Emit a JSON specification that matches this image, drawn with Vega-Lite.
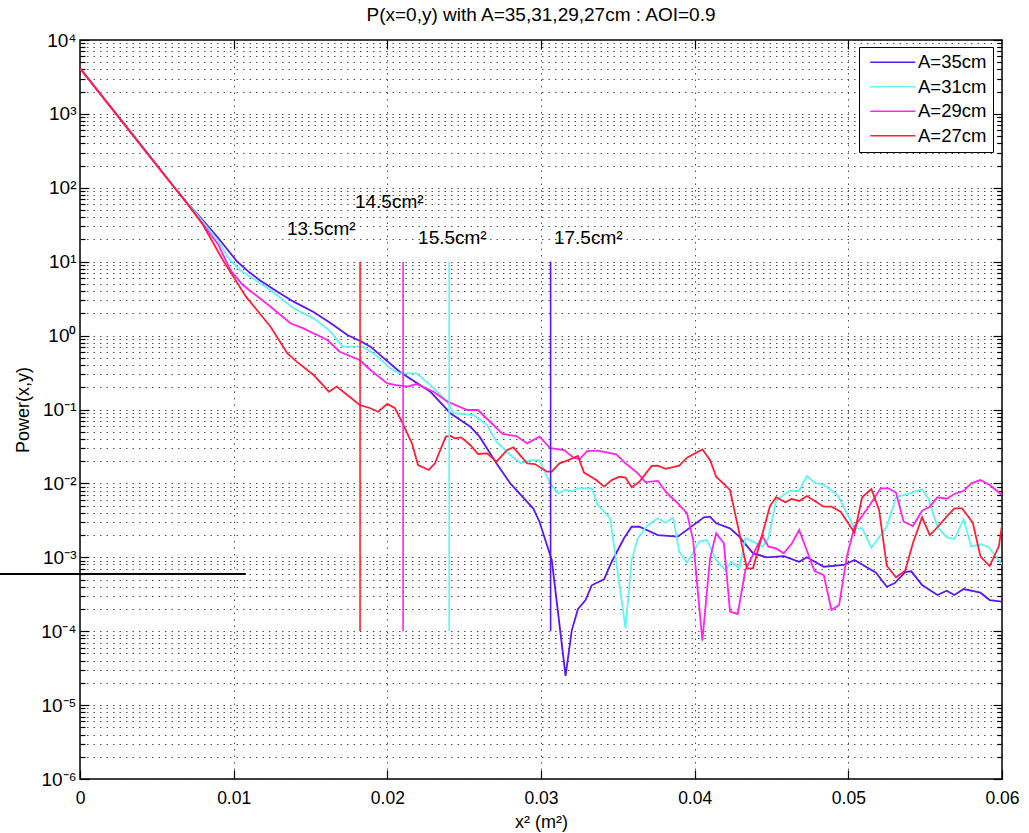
{
  "$schema": "https://vega.github.io/schema/vega-lite/v6.json",
  "width": 922,
  "height": 739,
  "autosize": {"type": "none"},
  "padding": {"left": 80, "top": 40, "right": 27, "bottom": 54},
  "background": "white",
  "config": {
    "font": "Liberation Sans",
    "view": {"stroke": "black", "strokeWidth": 1.5},
    "axis": {
      "labelFont": "Liberation Sans",
      "titleFont": "Liberation Sans",
      "labelColor": "black",
      "titleColor": "black",
      "titleFontWeight": "normal",
      "domain": false,
      "tickColor": "black",
      "tickWidth": 1.2,
      "gridColor": "#333333",
      "gridDash": [1.5, 5],
      "gridOpacity": 0.85,
      "gridWidth": 1
    }
  },
  "title": {
    "text": "P(x=0,y) with A=35,31,29,27cm : AOI=0.9",
    "font": "Liberation Sans",
    "fontSize": 19,
    "fontWeight": "normal",
    "color": "black",
    "anchor": "middle",
    "frame": "group",
    "baseline": "alphabetic",
    "offset": 15,
    "dy": 24
  },
  "datasets": {
    "curves": [
      {"s":"A=35cm","x":0,"y":4140},{"s":"A=35cm","x":0.004,"y":369},{"s":"A=35cm","x":0.006,"y":110},{"s":"A=35cm","x":0.007,"y":61.7},{"s":"A=35cm","x":0.008,"y":36.3},{"s":"A=35cm","x":0.009,"y":20.9},{"s":"A=35cm","x":0.0098,"y":12.9},{"s":"A=35cm","x":0.0102,"y":10.2},{"s":"A=35cm","x":0.011,"y":7.24},{"s":"A=35cm","x":0.0117,"y":5.62},{"s":"A=35cm","x":0.0128,"y":3.98},{"s":"A=35cm","x":0.0139,"y":2.88},{"s":"A=35cm","x":0.0152,"y":2.09},{"s":"A=35cm","x":0.0163,"y":1.48},{"s":"A=35cm","x":0.0174,"y":1.02},{"s":"A=35cm","x":0.0183,"y":0.832},{"s":"A=35cm","x":0.0189,"y":0.708},{"s":"A=35cm","x":0.0208,"y":0.325},{"s":"A=35cm","x":0.0228,"y":0.174},{"s":"A=35cm","x":0.0241,"y":0.0891},{"s":"A=35cm","x":0.0254,"y":0.0585},{"s":"A=35cm","x":0.026,"y":0.0429},{"s":"A=35cm","x":0.0271,"y":0.0187},{"s":"A=35cm","x":0.028,"y":0.01},{"s":"A=35cm","x":0.0295,"y":0.00457},{"s":"A=35cm","x":0.0299,"y":0.00303},{"s":"A=35cm","x":0.0307,"y":0.000918},{"s":"A=35cm","x":0.0316,"y":0.0000248},{"s":"A=35cm","x":0.032,"y":0.000102},{"s":"A=35cm","x":0.0324,"y":0.000198},{"s":"A=35cm","x":0.0329,"y":0.000264},{"s":"A=35cm","x":0.0333,"y":0.000418},{"s":"A=35cm","x":0.0341,"y":0.000504},{"s":"A=35cm","x":0.0346,"y":0.000871},{"s":"A=35cm","x":0.0354,"y":0.00181},{"s":"A=35cm","x":0.0359,"y":0.00259},{"s":"A=35cm","x":0.0364,"y":0.00259},{"s":"A=35cm","x":0.0376,"y":0.002},{"s":"A=35cm","x":0.0389,"y":0.0019},{"s":"A=35cm","x":0.0406,"y":0.00348},{"s":"A=35cm","x":0.041,"y":0.00355},{"s":"A=35cm","x":0.0414,"y":0.00288},{"s":"A=35cm","x":0.0423,"y":0.00247},{"s":"A=35cm","x":0.0429,"y":0.0019},{"s":"A=35cm","x":0.0438,"y":0.00113},{"s":"A=35cm","x":0.0447,"y":0.001},{"s":"A=35cm","x":0.0458,"y":0.00104},{"s":"A=35cm","x":0.0468,"y":0.000871},{"s":"A=35cm","x":0.0473,"y":0.001},{"s":"A=35cm","x":0.0484,"y":0.000746},{"s":"A=35cm","x":0.0497,"y":0.000787},{"s":"A=35cm","x":0.0504,"y":0.000918},{"s":"A=35cm","x":0.0518,"y":0.000619},{"s":"A=35cm","x":0.0525,"y":0.0004},{"s":"A=35cm","x":0.053,"y":0.000445},{"s":"A=35cm","x":0.0537,"y":0.000632},{"s":"A=35cm","x":0.0541,"y":0.000646},{"s":"A=35cm","x":0.0548,"y":0.000422},{"s":"A=35cm","x":0.0558,"y":0.000309},{"s":"A=35cm","x":0.0564,"y":0.000353},{"s":"A=35cm","x":0.0569,"y":0.000309},{"s":"A=35cm","x":0.0575,"y":0.000372},{"s":"A=35cm","x":0.0586,"y":0.000332},{"s":"A=35cm","x":0.0592,"y":0.000264},{"s":"A=35cm","x":0.06,"y":0.000251},
      {"s":"A=31cm","x":0,"y":4140},{"s":"A=31cm","x":0.004,"y":369},{"s":"A=31cm","x":0.006,"y":110},{"s":"A=31cm","x":0.007,"y":61},{"s":"A=31cm","x":0.008,"y":34.7},{"s":"A=31cm","x":0.009,"y":19.1},{"s":"A=31cm","x":0.00965,"y":11.2},{"s":"A=31cm","x":0.0104,"y":7.73},{"s":"A=31cm","x":0.0124,"y":4.14},{"s":"A=31cm","x":0.0139,"y":2.34},{"s":"A=31cm","x":0.0152,"y":1.71},{"s":"A=31cm","x":0.0162,"y":1.19},{"s":"A=31cm","x":0.0171,"y":0.708},{"s":"A=31cm","x":0.0184,"y":0.708},{"s":"A=31cm","x":0.0191,"y":0.575},{"s":"A=31cm","x":0.0202,"y":0.361},{"s":"A=31cm","x":0.0208,"y":0.309},{"s":"A=31cm","x":0.0219,"y":0.309},{"s":"A=31cm","x":0.0228,"y":0.214},{"s":"A=31cm","x":0.0239,"y":0.128},{"s":"A=31cm","x":0.0243,"y":0.0891},{"s":"A=31cm","x":0.0256,"y":0.0843},{"s":"A=31cm","x":0.0265,"y":0.0617},{"s":"A=31cm","x":0.0271,"y":0.0367},{"s":"A=31cm","x":0.028,"y":0.0242},{"s":"A=31cm","x":0.0287,"y":0.0187},{"s":"A=31cm","x":0.0293,"y":0.0207},{"s":"A=31cm","x":0.0299,"y":0.0207},{"s":"A=31cm","x":0.0306,"y":0.01},{"s":"A=31cm","x":0.0311,"y":0.00735},{"s":"A=31cm","x":0.0316,"y":0.00813},{"s":"A=31cm","x":0.032,"y":0.00776},{"s":"A=31cm","x":0.0324,"y":0.00859},{"s":"A=31cm","x":0.0333,"y":0.00859},{"s":"A=31cm","x":0.0337,"y":0.00511},{"s":"A=31cm","x":0.0345,"y":0.00337},{"s":"A=31cm","x":0.0355,"y":0.00011},{"s":"A=31cm","x":0.0359,"y":0.000918},{"s":"A=31cm","x":0.0363,"y":0.00181},{"s":"A=31cm","x":0.0369,"y":0.00265},{"s":"A=31cm","x":0.0376,"y":0.00337},{"s":"A=31cm","x":0.0381,"y":0.00294},{"s":"A=31cm","x":0.0386,"y":0.00344},{"s":"A=31cm","x":0.039,"y":0.00119},{"s":"A=31cm","x":0.0395,"y":0.000845},{"s":"A=31cm","x":0.04,"y":0.00126},{"s":"A=31cm","x":0.0403,"y":0.00163},{"s":"A=31cm","x":0.0408,"y":0.00171},{"s":"A=31cm","x":0.0414,"y":0.000918},{"s":"A=31cm","x":0.042,"y":0.000673},{"s":"A=31cm","x":0.0424,"y":0.000871},{"s":"A=31cm","x":0.0429,"y":0.00071},{"s":"A=31cm","x":0.0433,"y":0.00181},{"s":"A=31cm","x":0.0438,"y":0.00163},{"s":"A=31cm","x":0.0444,"y":0.00139},{"s":"A=31cm","x":0.0448,"y":0.00181},{"s":"A=31cm","x":0.0453,"y":0.00596},{"s":"A=31cm","x":0.0462,"y":0.00794},{"s":"A=31cm","x":0.0468,"y":0.00794},{"s":"A=31cm","x":0.0473,"y":0.0126},{"s":"A=31cm","x":0.0478,"y":0.0102},{"s":"A=31cm","x":0.0484,"y":0.00955},{"s":"A=31cm","x":0.0493,"y":0.00697},{"s":"A=31cm","x":0.0504,"y":0.00247},{"s":"A=31cm","x":0.0509,"y":0.00247},{"s":"A=31cm","x":0.0515,"y":0.00135},{"s":"A=31cm","x":0.0525,"y":0.00259},{"s":"A=31cm","x":0.0531,"y":0.00649},{"s":"A=31cm","x":0.054,"y":0.00735},{"s":"A=31cm","x":0.0548,"y":0.00832},{"s":"A=31cm","x":0.0552,"y":0.00628},{"s":"A=31cm","x":0.0558,"y":0.00259},{"s":"A=31cm","x":0.0564,"y":0.00186},{"s":"A=31cm","x":0.0569,"y":0.00177},{"s":"A=31cm","x":0.0575,"y":0.00327},{"s":"A=31cm","x":0.058,"y":0.00139},{"s":"A=31cm","x":0.0586,"y":0.00151},{"s":"A=31cm","x":0.0591,"y":0.00139},{"s":"A=31cm","x":0.06,"y":0.000804},
      {"s":"A=29cm","x":0,"y":4140},{"s":"A=29cm","x":0.004,"y":369},{"s":"A=29cm","x":0.006,"y":110},{"s":"A=29cm","x":0.007,"y":60.3},{"s":"A=29cm","x":0.008,"y":32.4},{"s":"A=29cm","x":0.009,"y":17},{"s":"A=29cm","x":0.0098,"y":7.6},{"s":"A=29cm","x":0.0106,"y":4.84},{"s":"A=29cm","x":0.0124,"y":2.46},{"s":"A=29cm","x":0.0137,"y":1.47},{"s":"A=29cm","x":0.0145,"y":1.26},{"s":"A=29cm","x":0.0161,"y":0.871},{"s":"A=29cm","x":0.0169,"y":0.605},{"s":"A=29cm","x":0.0182,"y":0.468},{"s":"A=29cm","x":0.0189,"y":0.343},{"s":"A=29cm","x":0.02,"y":0.226},{"s":"A=29cm","x":0.0206,"y":0.214},{"s":"A=29cm","x":0.0213,"y":0.204},{"s":"A=29cm","x":0.0219,"y":0.221},{"s":"A=29cm","x":0.023,"y":0.174},{"s":"A=29cm","x":0.0239,"y":0.128},{"s":"A=29cm","x":0.0252,"y":0.0984},{"s":"A=29cm","x":0.0259,"y":0.0984},{"s":"A=29cm","x":0.0269,"y":0.0617},{"s":"A=29cm","x":0.0275,"y":0.0466},{"s":"A=29cm","x":0.0284,"y":0.0438},{"s":"A=29cm","x":0.0291,"y":0.0348},{"s":"A=29cm","x":0.0299,"y":0.0429},{"s":"A=29cm","x":0.0306,"y":0.0299},{"s":"A=29cm","x":0.0315,"y":0.0283},{"s":"A=29cm","x":0.0321,"y":0.0225},{"s":"A=29cm","x":0.0325,"y":0.0212},{"s":"A=29cm","x":0.033,"y":0.0274},{"s":"A=29cm","x":0.0337,"y":0.0277},{"s":"A=29cm","x":0.0349,"y":0.0248},{"s":"A=29cm","x":0.0355,"y":0.0187},{"s":"A=29cm","x":0.0363,"y":0.0137},{"s":"A=29cm","x":0.0368,"y":0.0104},{"s":"A=29cm","x":0.0376,"y":0.0108},{"s":"A=29cm","x":0.0382,"y":0.00735},{"s":"A=29cm","x":0.0388,"y":0.00565},{"s":"A=29cm","x":0.0395,"y":0.00394},{"s":"A=29cm","x":0.0399,"y":0.00171},{"s":"A=29cm","x":0.0405,"y":0.0000745},{"s":"A=29cm","x":0.041,"y":0.000968},{"s":"A=29cm","x":0.0414,"y":0.00211},{"s":"A=29cm","x":0.0419,"y":0.00155},{"s":"A=29cm","x":0.0423,"y":0.000184},{"s":"A=29cm","x":0.0428,"y":0.000171},{"s":"A=29cm","x":0.0433,"y":0.000673},{"s":"A=29cm","x":0.0444,"y":0.00194},{"s":"A=29cm","x":0.0448,"y":0.00139},{"s":"A=29cm","x":0.0453,"y":0.00132},{"s":"A=29cm","x":0.0458,"y":0.00113},{"s":"A=29cm","x":0.0463,"y":0.00151},{"s":"A=29cm","x":0.0468,"y":0.00234},{"s":"A=29cm","x":0.0478,"y":0.000653},{"s":"A=29cm","x":0.0484,"y":0.000575},{"s":"A=29cm","x":0.0489,"y":0.000194},{"s":"A=29cm","x":0.0494,"y":0.000226},{"s":"A=29cm","x":0.0499,"y":0.00102},{"s":"A=29cm","x":0.0504,"y":0.00259},{"s":"A=29cm","x":0.0514,"y":0.00511},{"s":"A=29cm","x":0.0521,"y":0.00859},{"s":"A=29cm","x":0.0526,"y":0.00859},{"s":"A=29cm","x":0.0531,"y":0.0075},{"s":"A=29cm","x":0.0536,"y":0.00303},{"s":"A=29cm","x":0.0542,"y":0.00265},{"s":"A=29cm","x":0.0548,"y":0.00427},{"s":"A=29cm","x":0.0553,"y":0.00484},{"s":"A=29cm","x":0.0558,"y":0.00649},{"s":"A=29cm","x":0.0564,"y":0.00621},{"s":"A=29cm","x":0.0569,"y":0.00719},{"s":"A=29cm","x":0.0575,"y":0.00794},{"s":"A=29cm","x":0.058,"y":0.01},{"s":"A=29cm","x":0.0586,"y":0.0111},{"s":"A=29cm","x":0.0592,"y":0.00951},{"s":"A=29cm","x":0.06,"y":0.00697},
      {"s":"A=27cm","x":0,"y":4140},{"s":"A=27cm","x":0.004,"y":369},{"s":"A=27cm","x":0.006,"y":110},{"s":"A=27cm","x":0.007,"y":60.3},{"s":"A=27cm","x":0.008,"y":31.6},{"s":"A=27cm","x":0.0093,"y":10.5},{"s":"A=27cm","x":0.0108,"y":3.37},{"s":"A=27cm","x":0.0124,"y":1.32},{"s":"A=27cm","x":0.0135,"y":0.575},{"s":"A=27cm","x":0.0141,"y":0.444},{"s":"A=27cm","x":0.0152,"y":0.293},{"s":"A=27cm","x":0.0162,"y":0.174},{"s":"A=27cm","x":0.0167,"y":0.204},{"s":"A=27cm","x":0.0174,"y":0.157},{"s":"A=27cm","x":0.0182,"y":0.115},{"s":"A=27cm","x":0.0189,"y":0.104},{"s":"A=27cm","x":0.0194,"y":0.0933},{"s":"A=27cm","x":0.02,"y":0.119},{"s":"A=27cm","x":0.0205,"y":0.104},{"s":"A=27cm","x":0.021,"y":0.065},{"s":"A=27cm","x":0.0216,"y":0.0348},{"s":"A=27cm","x":0.022,"y":0.0177},{"s":"A=27cm","x":0.0227,"y":0.0152},{"s":"A=27cm","x":0.0231,"y":0.0187},{"s":"A=27cm","x":0.0238,"y":0.0429},{"s":"A=27cm","x":0.0241,"y":0.0438},{"s":"A=27cm","x":0.0244,"y":0.0407},{"s":"A=27cm","x":0.0248,"y":0.042},{"s":"A=27cm","x":0.0254,"y":0.0331},{"s":"A=27cm","x":0.0259,"y":0.025},{"s":"A=27cm","x":0.0265,"y":0.0255},{"s":"A=27cm","x":0.0271,"y":0.0197},{"s":"A=27cm","x":0.0278,"y":0.0283},{"s":"A=27cm","x":0.0282,"y":0.0308},{"s":"A=27cm","x":0.0291,"y":0.0187},{"s":"A=27cm","x":0.0296,"y":0.0183},{"s":"A=27cm","x":0.0304,"y":0.0144},{"s":"A=27cm","x":0.0307,"y":0.0144},{"s":"A=27cm","x":0.0312,"y":0.0187},{"s":"A=27cm","x":0.0317,"y":0.0203},{"s":"A=27cm","x":0.0324,"y":0.0235},{"s":"A=27cm","x":0.0328,"y":0.014},{"s":"A=27cm","x":0.0336,"y":0.0111},{"s":"A=27cm","x":0.0341,"y":0.00904},{"s":"A=27cm","x":0.0346,"y":0.0111},{"s":"A=27cm","x":0.0351,"y":0.0123},{"s":"A=27cm","x":0.0355,"y":0.012},{"s":"A=27cm","x":0.0359,"y":0.00885},{"s":"A=27cm","x":0.0364,"y":0.0105},{"s":"A=27cm","x":0.0372,"y":0.0172},{"s":"A=27cm","x":0.0376,"y":0.0174},{"s":"A=27cm","x":0.0381,"y":0.0157},{"s":"A=27cm","x":0.039,"y":0.0174},{"s":"A=27cm","x":0.0395,"y":0.0223},{"s":"A=27cm","x":0.0405,"y":0.0289},{"s":"A=27cm","x":0.041,"y":0.0207},{"s":"A=27cm","x":0.0414,"y":0.0123},{"s":"A=27cm","x":0.0423,"y":0.00815},{"s":"A=27cm","x":0.0434,"y":0.00071},{"s":"A=27cm","x":0.0438,"y":0.00071},{"s":"A=27cm","x":0.0449,"y":0.00494},{"s":"A=27cm","x":0.0453,"y":0.00649},{"s":"A=27cm","x":0.0459,"y":0.00555},{"s":"A=27cm","x":0.0463,"y":0.00615},{"s":"A=27cm","x":0.0468,"y":0.00578},{"s":"A=27cm","x":0.0473,"y":0.00675},{"s":"A=27cm","x":0.0484,"y":0.00484},{"s":"A=27cm","x":0.0489,"y":0.00484},{"s":"A=27cm","x":0.0495,"y":0.00414},{"s":"A=27cm","x":0.0504,"y":0.00215},{"s":"A=27cm","x":0.0509,"y":0.00649},{"s":"A=27cm","x":0.0515,"y":0.00839},{"s":"A=27cm","x":0.052,"y":0.00437},{"s":"A=27cm","x":0.0525,"y":0.000769},{"s":"A=27cm","x":0.0531,"y":0.000536},{"s":"A=27cm","x":0.0537,"y":0.000659},{"s":"A=27cm","x":0.0542,"y":0.00155},{"s":"A=27cm","x":0.0548,"y":0.00348},{"s":"A=27cm","x":0.0553,"y":0.002},{"s":"A=27cm","x":0.0558,"y":0.00255},{"s":"A=27cm","x":0.0564,"y":0.00355},{"s":"A=27cm","x":0.0569,"y":0.0046},{"s":"A=27cm","x":0.0574,"y":0.0046},{"s":"A=27cm","x":0.0581,"y":0.00294},{"s":"A=27cm","x":0.0586,"y":0.00102},{"s":"A=27cm","x":0.0592,"y":0.000762},{"s":"A=27cm","x":0.0598,"y":0.00142},{"s":"A=27cm","x":0.06,"y":0.00274}
    ],
    "vlines": [
      {"s":"A=27cm","x":0.018225,"y":10,"y2":0.0001},
      {"s":"A=29cm","x":0.021025,"y":10,"y2":0.0001},
      {"s":"A=31cm","x":0.024025,"y":10,"y2":0.0001},
      {"s":"A=35cm","x":0.030625,"y":10,"y2":0.0001}
    ],
    "labels": [
      {"x":0.01347,"y":27.4,"t":"13.5cm²"},
      {"x":0.01789,"y":64.9,"t":"14.5cm²"},
      {"x":0.022,"y":20.7,"t":"15.5cm²"},
      {"x":0.03084,"y":20.7,"t":"17.5cm²"}
    ],
    "stray": [
      {"x":-0.00523,"x2":0.01079,"y":0.000594}
    ]
  },
  "layer": [
    {
      "data": {"name": "curves"},
      "mark": {"type": "line", "strokeWidth": 1.8, "clip": true},
      "encoding": {
        "x": {
          "field": "x", "type": "quantitative",
          "scale": {"domain": [0, 0.06], "nice": false, "zero": false},
          "axis": {
            "orient": "bottom",
            "values": [0, 0.01, 0.02, 0.03, 0.04, 0.05, 0.06],
            "grid": true,
            "tickSize": -9,
            "labelPadding": 19,
            "labelFontSize": 17.5,
            "labelFlush": false,
            "labelOverlap": false,
            "labelExpr": "datum.value == 0 ? '0' : format(datum.value, '.2f')",
            "title": "x² (m²)",
            "titleFontSize": 18,
            "titleX": 461,
            "titleY": 48,
            "titleAlign": "center",
            "titleBaseline": "alphabetic"
          }
        },
        "y": {
          "field": "y", "type": "quantitative",
          "scale": {"type": "log", "domain": [0.000001, 10000], "nice": false},
          "axis": {
            "orient": "left",
            "values": [0.000001,0.000002,0.000003,0.000004,0.000005,0.000006,0.000007,0.000008,0.000009,0.00001,0.00002,0.00003,0.00004,0.00005,0.00006,0.00007,0.00008,0.00009,0.0001,0.0002,0.0003,0.0004,0.0005,0.0006,0.0007,0.0008,0.0009,0.001,0.002,0.003,0.004,0.005,0.006,0.007,0.008,0.009,0.01,0.02,0.03,0.04,0.05,0.06,0.07,0.08,0.09,0.1,0.2,0.3,0.4,0.5,0.6,0.7,0.8,0.9,1,2,3,4,5,6,7,8,9,10,20,30,40,50,60,70,80,90,100,200,300,400,500,600,700,800,900,1000,2000,3000,4000,5000,6000,7000,8000,9000,10000],
            "grid": true,
            "tickSize": {"condition": {"test": "abs(log(datum.value)/LN10 - round(log(datum.value)/LN10)) < 0.000001", "value": -9}, "value": -5},
            "labelPadding": 13,
            "labelFontSize": 19,
            "labelFlush": false,
            "labelOverlap": false,
            "labelBound": false,
            "labelExpr": "abs(log(datum.value)/LN10 - round(log(datum.value)/LN10)) < 0.000001 ? '10' + ['⁻⁶','⁻⁵','⁻⁴','⁻³','⁻²','⁻¹','⁰','¹','²','³','⁴'][round(log(datum.value)/LN10) + 6] : ''",
            "title": "Power(x,y)",
            "titleFontSize": 18,
            "titleX": -57,
            "titleY": 369.5,
            "titleAlign": "center",
            "titleBaseline": "middle"
          }
        },
        "color": {
          "field": "s", "type": "nominal",
          "scale": {"domain": ["A=35cm", "A=31cm", "A=29cm", "A=27cm"], "range": ["#5b16f5", "#60f4f4", "#ff22f0", "#ff1f35"]},
          "legend": {
            "orient": "none",
            "legendX": 779,
            "legendY": 7,
            "title": null,
            "symbolType": "M-5,0H5",
            "symbolSize": 81,
            "symbolStrokeWidth": 1.6,
            "symbolOffset": 18.5,
            "labelOffset": 16,
            "padding": 6,
            "rowPadding": 5.5,
            "labelFont": "Liberation Sans",
            "labelFontSize": 18.5,
            "labelColor": "black",
            "strokeColor": "black",
            "fillColor": "white",
            "cornerRadius": 0,
            "labelLimit": 300
          }
        }
      }
    },
    {
      "data": {"name": "vlines"},
      "mark": {"type": "rule", "strokeWidth": 1.6},
      "encoding": {
        "x": {"field": "x", "type": "quantitative", "scale": {"domain": [0, 0.06], "nice": false, "zero": false}, "axis": null},
        "y": {"field": "y", "type": "quantitative", "scale": {"type": "log", "domain": [0.000001, 10000], "nice": false}, "axis": null},
        "y2": {"field": "y2"},
        "color": {"field": "s", "type": "nominal"}
      }
    },
    {
      "data": {"name": "labels"},
      "mark": {"type": "text", "align": "left", "baseline": "middle", "fontSize": 19, "font": "Liberation Sans", "color": "black"},
      "encoding": {
        "x": {"field": "x", "type": "quantitative", "scale": {"domain": [0, 0.06], "nice": false, "zero": false}, "axis": null},
        "y": {"field": "y", "type": "quantitative", "scale": {"type": "log", "domain": [0.000001, 10000], "nice": false}, "axis": null},
        "text": {"field": "t"}
      }
    },
    {
      "data": {"name": "stray"},
      "mark": {"type": "rule", "strokeWidth": 2, "color": "black", "clip": false},
      "encoding": {
        "x": {
          "field": "x", "type": "quantitative",
          "scale": {"domain": [0, 0.06], "nice": false, "zero": false},
          "axis": {"orient": "top", "values": [0.01, 0.02, 0.03, 0.04, 0.05], "labels": false, "grid": false, "title": null, "tickSize": -9}
        },
        "x2": {"field": "x2"},
        "y": {
          "field": "y", "type": "quantitative",
          "scale": {"type": "log", "domain": [0.000001, 10000], "nice": false},
          "axis": {
            "orient": "right",
            "values": [0.000001,0.000002,0.000003,0.000004,0.000005,0.000006,0.000007,0.000008,0.000009,0.00001,0.00002,0.00003,0.00004,0.00005,0.00006,0.00007,0.00008,0.00009,0.0001,0.0002,0.0003,0.0004,0.0005,0.0006,0.0007,0.0008,0.0009,0.001,0.002,0.003,0.004,0.005,0.006,0.007,0.008,0.009,0.01,0.02,0.03,0.04,0.05,0.06,0.07,0.08,0.09,0.1,0.2,0.3,0.4,0.5,0.6,0.7,0.8,0.9,1,2,3,4,5,6,7,8,9,10,20,30,40,50,60,70,80,90,100,200,300,400,500,600,700,800,900,1000,2000,3000,4000,5000,6000,7000,8000,9000,10000],
            "labels": false,
            "grid": false,
            "title": null,
            "tickSize": {"condition": {"test": "abs(log(datum.value)/LN10 - round(log(datum.value)/LN10)) < 0.000001", "value": -9}, "value": -5}
          }
        }
      }
    }
  ],
  "resolve": {
    "scale": {"x": "shared", "y": "shared", "color": "shared"},
    "axis": {"x": "independent", "y": "independent"}
  }
}
